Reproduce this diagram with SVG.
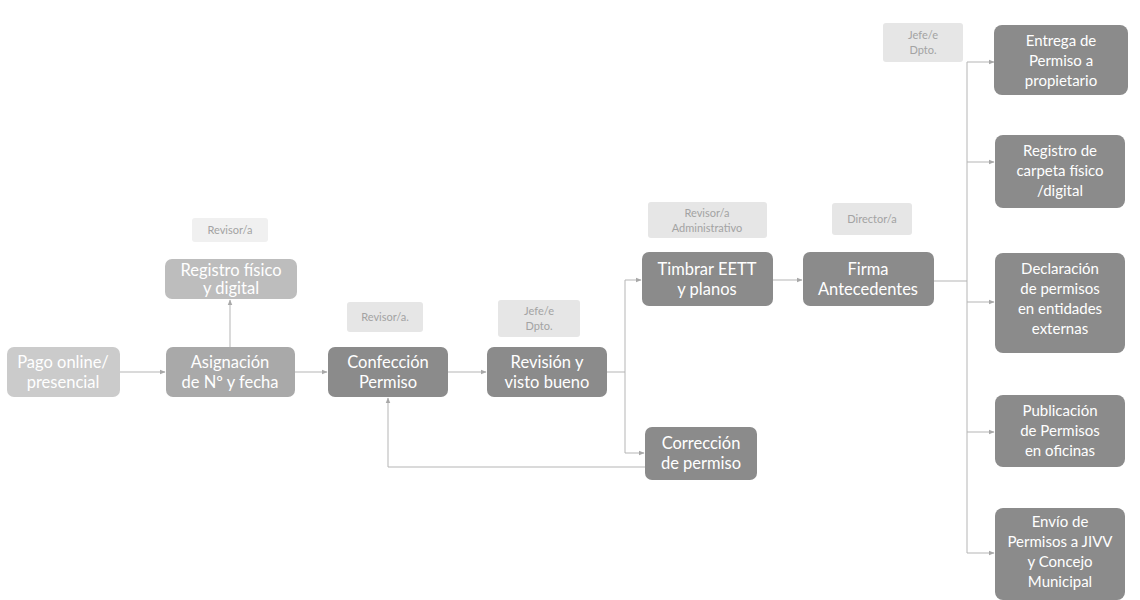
<svg xmlns="http://www.w3.org/2000/svg" width="1140" height="600" viewBox="0 0 1140 600">
<style>
.box{stroke:none}
.dark{fill:#8b8b8b}
.mid{fill:#a9a9a9}
.light{fill:#bdbdbd}
.pale{fill:#cbcbcb}
.lab{fill:#e6e6e6}
.t{font-family:Lato,"Open Sans","Liberation Sans",sans-serif;fill:#ffffff;text-anchor:middle;font-size:16.5px}
.ts{font-family:Lato,"Open Sans","Liberation Sans",sans-serif;fill:#ffffff;text-anchor:middle;font-size:15px}
.tl{font-family:Lato,"Open Sans","Liberation Sans",sans-serif;fill:#a3a3a3;text-anchor:middle;font-size:11px}
.c{fill:none;stroke:#b5b5b5;stroke-width:1}
</style>
<defs>
<marker id="ah" viewBox="0 0 10 10" refX="9" refY="5" markerWidth="6" markerHeight="6" orient="auto">
<path d="M0,1 L10,5 L0,9 z" fill="#a8a8a8"/>
</marker>
</defs>
<rect width="1140" height="600" fill="#ffffff"/>
<g id="connectors">
<line class="c" x1="120" y1="372" x2="165" y2="372" marker-end="url(#ah)"/>
<line class="c" x1="230" y1="347" x2="230" y2="300" marker-end="url(#ah)"/>
<line class="c" x1="295" y1="372" x2="327" y2="372" marker-end="url(#ah)"/>
<line class="c" x1="448" y1="372" x2="486" y2="372" marker-end="url(#ah)"/>
<polyline class="c" points="607,372 625,372"/>
<line class="c" x1="625" y1="280" x2="625" y2="453"/>
<line class="c" x1="625" y1="280" x2="641" y2="280" marker-end="url(#ah)"/>
<line class="c" x1="625" y1="453" x2="644" y2="453" marker-end="url(#ah)"/>
<polyline class="c" points="645,467 388,467 388,398" marker-end="url(#ah)"/>
<line class="c" x1="773" y1="280" x2="802" y2="280" marker-end="url(#ah)"/>
<line class="c" x1="933" y1="281" x2="967" y2="281"/>
<line class="c" x1="967" y1="62" x2="967" y2="553"/>
<line class="c" x1="967" y1="62" x2="994" y2="62" marker-end="url(#ah)"/>
<line class="c" x1="967" y1="162" x2="994" y2="162" marker-end="url(#ah)"/>
<line class="c" x1="967" y1="302" x2="994" y2="302" marker-end="url(#ah)"/>
<line class="c" x1="967" y1="432" x2="994" y2="432" marker-end="url(#ah)"/>
<line class="c" x1="967" y1="553" x2="994" y2="553" marker-end="url(#ah)"/>
</g>
<g id="pago">
<rect class="box pale" x="7" y="347" width="113" height="50" rx="7"/>
<text class="t" x="63" y="368">Pago online/</text>
<text class="t" x="63" y="388">presencial</text>
</g>
<g id="asignacion">
<rect class="box mid" x="166" y="347" width="129" height="50" rx="7"/>
<text class="t" x="230" y="368">Asignación</text>
<text class="t" x="230" y="388">de Nº y fecha</text>
</g>
<g id="lab-revisor1">
<rect class="box lab" x="192" y="218" width="76" height="24" rx="3" opacity="0.6"/>
<text class="tl" x="230" y="234">Revisor/a</text>
</g>
<g id="registro">
<rect class="box light" x="165" y="259" width="132" height="40" rx="7"/>
<text class="t" x="231" y="276">Registro físico</text>
<text class="t" x="231" y="294">y digital</text>
</g>
<g id="lab-revisor2">
<rect class="box lab" x="347" y="302" width="76" height="30" rx="3"/>
<text class="tl" x="385" y="321">Revisor/a.</text>
</g>
<g id="confeccion">
<rect class="box dark" x="328" y="347" width="120" height="50" rx="7"/>
<text class="t" x="388" y="368">Confección</text>
<text class="t" x="388" y="388">Permiso</text>
</g>
<g id="lab-jefe1">
<rect class="box lab" x="498" y="300" width="82" height="37" rx="3"/>
<text class="tl" x="539" y="315">Jefe/e</text>
<text class="tl" x="539" y="330">Dpto.</text>
</g>
<g id="revision">
<rect class="box dark" x="487" y="347" width="120" height="50" rx="7"/>
<text class="t" x="547" y="368">Revisión y</text>
<text class="t" x="547" y="388">visto bueno</text>
</g>
<g id="correccion">
<rect class="box dark" x="645" y="427" width="112" height="53" rx="7"/>
<text class="t" x="701" y="449">Corrección</text>
<text class="t" x="701" y="469">de permiso</text>
</g>
<g id="lab-revisor3">
<rect class="box lab" x="648" y="202" width="119" height="36" rx="3"/>
<text class="tl" x="707" y="217">Revisor/a</text>
<text class="tl" x="707" y="232">Administrativo</text>
</g>
<g id="timbrar">
<rect class="box dark" x="642" y="252" width="131" height="54" rx="7"/>
<text class="t" x="707" y="275">Timbrar EETT</text>
<text class="t" x="707" y="295">y planos</text>
</g>
<g id="lab-director">
<rect class="box lab" x="832" y="203" width="80" height="32" rx="3"/>
<text class="tl" x="872" y="223">Director/a</text>
</g>
<g id="firma">
<rect class="box dark" x="803" y="252" width="131" height="54" rx="7"/>
<text class="t" x="868" y="275">Firma</text>
<text class="t" x="868" y="295">Antecedentes</text>
</g>
<g id="lab-jefe2">
<rect class="box lab" x="883" y="23" width="80" height="39" rx="3"/>
<text class="tl" x="923" y="39">Jefe/e</text>
<text class="tl" x="923" y="54">Dpto.</text>
</g>
<g id="entrega">
<rect class="box dark" x="994" y="25" width="134" height="70" rx="8"/>
<text class="ts" x="1061" y="46">Entrega de</text>
<text class="ts" x="1061" y="66">Permiso a</text>
<text class="ts" x="1061" y="86">propietario</text>
</g>
<g id="carpeta">
<rect class="box dark" x="995" y="135" width="130" height="73" rx="8"/>
<text class="ts" x="1060" y="156">Registro de</text>
<text class="ts" x="1060" y="176">carpeta físico</text>
<text class="ts" x="1060" y="196">/digital</text>
</g>
<g id="declaracion">
<rect class="box dark" x="995" y="253" width="130" height="100" rx="8"/>
<text class="ts" x="1060" y="274">Declaración</text>
<text class="ts" x="1060" y="294">de permisos</text>
<text class="ts" x="1060" y="314">en entidades</text>
<text class="ts" x="1060" y="334">externas</text>
</g>
<g id="publicacion">
<rect class="box dark" x="995" y="395" width="130" height="72" rx="8"/>
<text class="ts" x="1060" y="416">Publicación</text>
<text class="ts" x="1060" y="436">de Permisos</text>
<text class="ts" x="1060" y="456">en oficinas</text>
</g>
<g id="envio">
<rect class="box dark" x="995" y="508" width="130" height="92" rx="8"/>
<text class="ts" x="1060" y="527">Envío de</text>
<text class="ts" x="1060" y="547">Permisos a JIVV</text>
<text class="ts" x="1060" y="567">y Concejo</text>
<text class="ts" x="1060" y="587">Municipal</text>
</g>
</svg>
